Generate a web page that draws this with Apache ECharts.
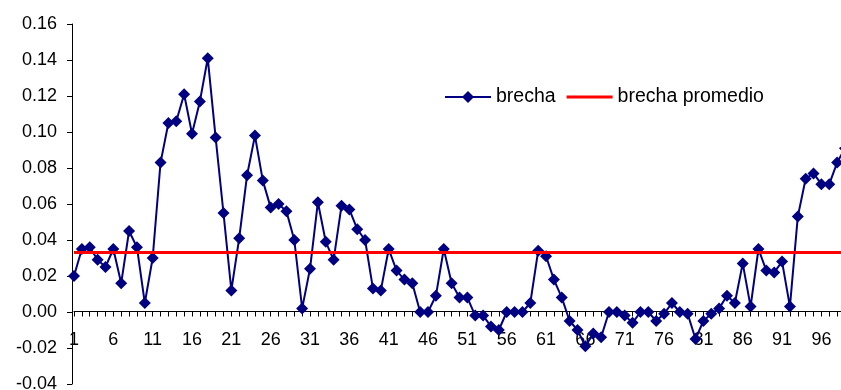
<!DOCTYPE html>
<html>
<head>
<meta charset="utf-8">
<script src="https://cdn.jsdelivr.net/npm/echarts@6/dist/echarts.min.js"></script>
<style>
html,body{margin:0;padding:0;background:#fff;}
#chart{width:841px;height:390px;}
</style>
</head>
<body>
<div id="chart"></div>
<script>
const categories = [];
for (let i = 1; i <= 99; i++) categories.push(String(i));

const brecha = [
  0.020, 0.035, 0.036, 0.029, 0.025, 0.035, 0.016, 0.045, 0.036, 0.005,
  0.030, 0.083, 0.105, 0.106, 0.121, 0.099, 0.117, 0.141, 0.097, 0.055,
  0.012, 0.041, 0.076, 0.098, 0.073, 0.058, 0.060, 0.056, 0.040, 0.002,
  0.024, 0.061, 0.039, 0.029, 0.059, 0.057, 0.046, 0.040, 0.013, 0.012,
  0.035, 0.023, 0.018, 0.016, 0.000, 0.000, 0.009, 0.035, 0.016, 0.008,
  0.008, -0.002, -0.002, -0.008, -0.010, 0.000, 0.000, 0.000, 0.005, 0.034,
  0.031, 0.018, 0.008, -0.005, -0.010, -0.019, -0.012, -0.014, 0.000, 0.000,
  -0.002, -0.006, 0.000, 0.000, -0.005, -0.001, 0.005, 0.000, -0.001, -0.015,
  -0.005, -0.001, 0.002, 0.009, 0.005, 0.027, 0.003, 0.035, 0.023, 0.022,
  0.028, 0.003, 0.053, 0.074, 0.077, 0.071, 0.071, 0.083, 0.091
];

const brechaPromedio = 0.0333;

const yTicks = { min: -0.04, max: 0.16, interval: 0.02 };

const FONT = '"Liberation Sans", Arial, sans-serif';

const chart = echarts.init(document.getElementById('chart'), null, { renderer: 'canvas' });
chart.setOption({
  animation: false,
  backgroundColor: '#ffffff',
  textStyle: { fontFamily: FONT },
  grid: [
    { left: 74, right: -4, top: 24, height: 360, containLabel: false, outerBoundsMode: 'none' },
    { left: 74, right: -4, top: 310, height: 1.5, containLabel: false, outerBoundsMode: 'none' }
  ],
  legend: {
    left: 439,
    top: 82,
    itemWidth: 46,
    itemHeight: 15,
    itemGap: 11,
    textStyle: { fontFamily: FONT, fontSize: 19.5, color: '#000' },
    data: [
      { name: 'brecha' },
      { name: 'brecha promedio', icon: 'path://M0,0L46,0L46,3L0,3Z' }
    ]
  },
  xAxis: [
    {
      type: 'category',
      gridIndex: 0,
      data: categories,
      boundaryGap: false,
      axisLine: { show: false },
      axisTick: { show: false },
      axisLabel: { show: false },
      splitLine: { show: false }
    },
    {
      type: 'category',
      gridIndex: 1,
      data: categories,
      boundaryGap: false,
      axisLine: { show: true, onZero: false, lineStyle: { color: '#000', width: 1 } },
      axisTick: { show: true, interval: 0, length: 5, lineStyle: { color: '#000' } },
      axisLabel: { interval: 4, margin: 20, fontSize: 18, color: '#000', fontFamily: FONT },
      splitLine: { show: false }
    }
  ],
  yAxis: [
    {
      type: 'value',
      gridIndex: 0,
      min: yTicks.min,
      max: yTicks.max,
      interval: yTicks.interval,
      offset: 2,
      axisLine: { show: true, lineStyle: { color: '#000', width: 1 } },
      axisTick: { show: true, length: 5, lineStyle: { color: '#000' } },
      axisLabel: {
        margin: 15, fontSize: 18, color: '#000', fontFamily: FONT,
        formatter: v => v.toFixed(2)
      },
      splitLine: { show: false }
    },
    {
      type: 'value',
      gridIndex: 1,
      show: false
    }
  ],
  series: [
    {
      name: 'brecha promedio',
      type: 'line',
      xAxisIndex: 0,
      yAxisIndex: 0,
      data: [],
      symbol: 'none',
      itemStyle: { color: '#ff0000' },
      lineStyle: { color: '#ff0000', width: 3 },
      markLine: {
        silent: true,
        symbol: 'none',
        precision: 6,
        label: { show: false },
        lineStyle: { color: '#ff0000', width: 3, type: 'solid' },
        data: [{ yAxis: brechaPromedio }]
      }
    },
    {
      name: 'brecha',
      type: 'line',
      xAxisIndex: 0,
      yAxisIndex: 0,
      data: brecha,
      symbol: 'diamond',
      symbolSize: 12,
      showAllSymbol: true,
      itemStyle: { color: '#000080' },
      lineStyle: { color: '#000080', width: 2 }
    }
  ]
});
</script>
</body>
</html>
